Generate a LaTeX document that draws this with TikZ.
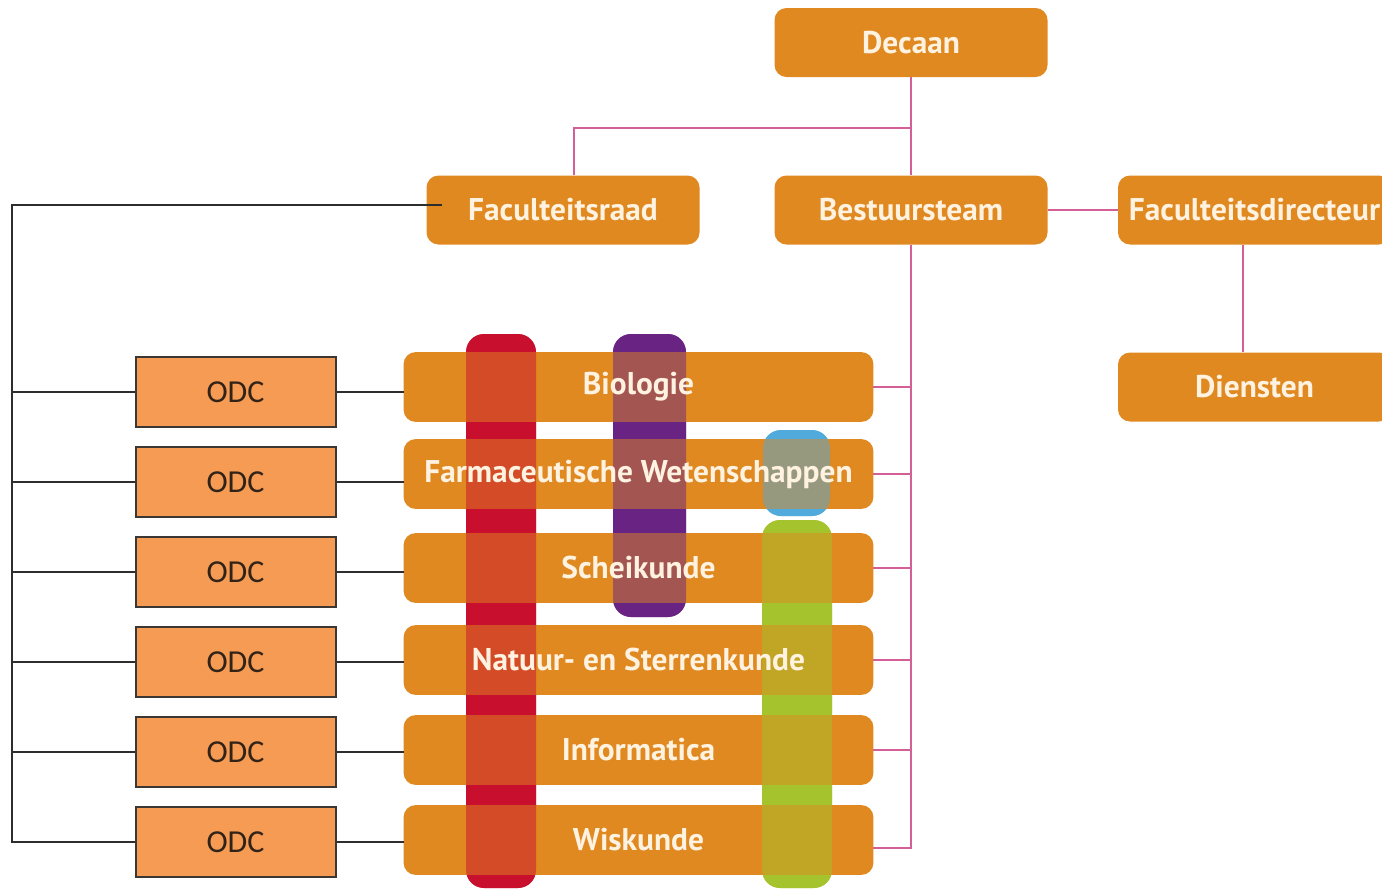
\documentclass[tikz,border=0pt]{standalone}
\usepackage{fontspec}
\newfontfamily\labelfont{PT Sans}
\newfontfamily\odcfont{Carlito}

\definecolor{unior}{RGB}{223,137,32}
\definecolor{labeltext}{RGB}{255,242,224}
\definecolor{odcfill}{RGB}{246,155,84}
\definecolor{odcedge}{RGB}{60,55,50}
\definecolor{odctext}{RGB}{50,35,25}
\definecolor{pinkc}{RGB}{212,95,150}
\definecolor{darkc}{RGB}{45,45,45}
\definecolor{redbar}{RGB}{200,16,46}
\definecolor{purplebar}{RGB}{105,35,130}
\definecolor{bluebar}{RGB}{80,170,220}
\definecolor{greenbar}{RGB}{165,195,45}

\pgfdeclarelayer{bars}
\pgfdeclarelayer{boxes}
\pgfdeclarelayer{tint}
\pgfsetlayers{bars,boxes,tint,main}

\tikzset{
    unibox/.style={fill=unior, rounded corners=6pt, inner sep=0pt,
        minimum width=136.5pt, minimum height=34.5pt, text=labeltext,
        font=\labelfont\bfseries\fontsize{15.7}{17}\selectfont},
    facbar/.style={inner sep=0pt, minimum width=234.5pt, minimum height=34.5pt,
        text=labeltext, font=\labelfont\bfseries\fontsize{15.7}{17}\selectfont},
    odcbox/.style={fill=odcfill, draw=odcedge, line width=1pt, inner sep=0pt,
        minimum width=100pt, minimum height=35pt, text=odctext,
        font=\odcfont\fontsize{16}{18}\selectfont},
    pinkline/.style={draw=pinkc, line width=1pt},
    blackline/.style={draw=darkc, line width=1pt},
}

\begin{document}
\begin{tikzpicture}[x=0.5pt,y=-0.5pt]
    \useasboundingbox (0,0) rectangle (1382,889);
    %% Top of the faculty
    \node[unibox] (decaan) at (911,42.5) {Decaan};
    \node[unibox] (raad) at (563,210) {Faculteitsraad};
    \node[unibox] (bestuur) at (911,210) {Bestuursteam};
    \node[unibox] (directeur) at (1254.5,210) {Faculteitsdirecteur};
    \node[unibox] (diensten) at (1254.5,387) {Diensten};
    %% Institutes and their ODCs
    \foreach \n/\y/\t in {bio/387/Biologie,
                          farm/474/Farmaceutische Wetenschappen,
                          schei/568/Scheikunde,
                          natuur/660/Natuur- en Sterrenkunde,
                          info/750/Informatica,
                          wis/840/Wiskunde}
        \node[facbar] (\n) at (638.5,\y) {\t};
    \foreach \i/\y in {1/392,2/482,3/572,4/662,5/752,6/842}
        \node[odcbox] (odc\i) at (235.5,\y) {ODC};
    %% Orange bars under the text
    \begin{pgfonlayer}{boxes}
        \foreach \n in {bio,farm,schei,natuur,info,wis}
            \fill[unior, rounded corners=6pt] (\n.south west) rectangle (\n.north east);
    \end{pgfonlayer}
    %% Research themes across the institutes
    \begin{pgfonlayer}{bars}
        \foreach \c/\xa/\ya/\xb/\yb in {redbar/466/334/536/888,
                                       purplebar/613/334/686/617,
                                       bluebar/763/430/830/516,
                                       greenbar/762/520/832/888}
            \fill[\c, rounded corners=9pt] (\xa,\ya) rectangle (\xb,\yb);
    \end{pgfonlayer}
    \begin{pgfonlayer}{tint}
        \foreach \c/\xa/\ya/\xb/\yb in {redbar/466/334/536/888,
                                       purplebar/613/334/686/617,
                                       bluebar/763/430/830/516,
                                       greenbar/762/520/832/888}
            \fill[\c, fill opacity=0.5, rounded corners=9pt] (\xa,\ya) rectangle (\xb,\yb);
    \end{pgfonlayer}
    %% Lines of the board
    \coordinate (split) at (911,128);
    \draw[pinkline] (decaan) -- (bestuur);
    \draw[pinkline] (split) -| ([xshift=5.5pt]raad.north);
    \draw[pinkline] (bestuur) -- (directeur);
    \draw[pinkline] (directeur.south -| 1243,0) -- (diensten.north -| 1243,0);
    \draw[pinkline] (bestuur.south) -- (911,848) -- ([yshift=-4pt]wis.east);
    \foreach \n in {bio,farm,schei,natuur,info}
        \draw[pinkline] (\n.east) -- (\n.east -| bestuur.south);
    %% Lines of the ODCs
    \coordinate (spine) at (12,205);
    \draw[blackline] ([xshift=8pt,yshift=2.5pt]raad.west) -- (spine) |- (odc6.west);
    \foreach \i/\n in {1/bio,2/farm,3/schei,4/natuur,5/info,6/wis}
    {
        \draw[blackline] (odc\i.west) -- (odc\i.west -| spine);
        \draw[blackline] (odc\i.east) -- (odc\i.east -| \n.west);
    }
\end{tikzpicture}
\end{document}
